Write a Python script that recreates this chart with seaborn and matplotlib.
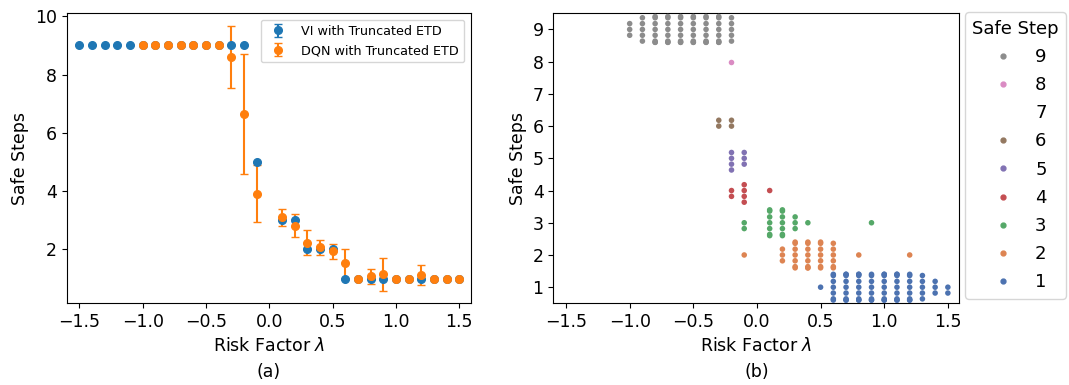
import warnings
import numpy as np
import pandas as pd
import matplotlib
matplotlib.use("Agg")
import matplotlib.pyplot as plt
from matplotlib.lines import Line2D
import seaborn as sns

warnings.filterwarnings("ignore")

# ---- (a) mean safe steps per risk factor ----
vi_lambdas = [-1.5, -1.4, -1.3, -1.2, -1.1, -1.0, -0.9, -0.8, -0.7, -0.6,
              -0.5, -0.4, -0.3, -0.2, -0.1, 0.1, 0.2, 0.3, 0.4, 0.5,
              0.6, 0.7, 0.8, 0.9, 1.0, 1.1, 1.2, 1.3, 1.4, 1.5]
vi_steps = [9, 9, 9, 9, 9, 9, 9, 9, 9, 9,
            9, 9, 9, 9, 5, 3, 3, 2, 2, 2,
            1, 1, 1, 1, 1, 1, 1, 1, 1, 1]

dqn_lambdas = [-1.0, -0.9, -0.8, -0.7, -0.6, -0.5, -0.4, -0.3, -0.2, -0.1,
               0.1, 0.2, 0.3, 0.4, 0.5, 0.6, 0.7, 0.8, 0.9, 1.0,
               1.1, 1.2, 1.3, 1.4, 1.5]
dqn_mean = [9, 9, 9, 9, 9, 9, 9, 8.59, 6.65, 3.91,
            3.10, 2.81, 2.23, 2.07, 1.93, 1.52, 1.0, 1.07, 1.15, 1.0,
            1.0, 1.12, 1.0, 1.0, 1.0]
dqn_err = [0, 0, 0, 0, 0, 0, 0, 1.06, 2.07, 0.98,
           0.29, 0.40, 0.42, 0.26, 0.26, 0.51, 0, 0.26, 0.57, 0,
           0, 0.34, 0, 0, 0]

# ---- (b) number of DQN runs reaching each safe step, per risk factor ----
runs_step9 = [3, 5, 8, 8, 8, 8, 8, 8, 5, 0, 0, 0, 0, 0, 0, 0, 0, 0, 0, 0, 0, 0, 0, 0, 0]
runs_step8 = [0, 0, 0, 0, 0, 0, 0, 0, 1, 0, 0, 0, 0, 0, 0, 0, 0, 0, 0, 0, 0, 0, 0, 0, 0]
runs_step6 = [0, 0, 0, 0, 0, 0, 0, 2, 2, 0, 0, 0, 0, 0, 0, 0, 0, 0, 0, 0, 0, 0, 0, 0, 0]
runs_step5 = [0, 0, 0, 0, 0, 0, 0, 0, 4, 3, 0, 0, 0, 0, 0, 0, 0, 0, 0, 0, 0, 0, 0, 0, 0]
runs_step4 = [0, 0, 0, 0, 0, 0, 0, 0, 2, 4, 1, 0, 0, 0, 0, 0, 0, 0, 0, 0, 0, 0, 0, 0, 0]
runs_step3 = [0, 0, 0, 0, 0, 0, 0, 0, 0, 2, 7, 7, 3, 1, 0, 0, 0, 0, 1, 0, 0, 0, 0, 0, 0]
runs_step2 = [0, 0, 0, 0, 0, 0, 0, 0, 0, 1, 0, 3, 7, 8, 7, 6, 0, 1, 0, 0, 0, 1, 0, 0, 0]
runs_step1 = [0, 0, 0, 0, 0, 0, 0, 0, 0, 0, 0, 0, 0, 0, 1, 7, 9, 9, 8, 9, 9, 8, 5, 3, 2]

runs_by_step = {9: runs_step9, 8: runs_step8, 6: runs_step6, 5: runs_step5,
                4: runs_step4, 3: runs_step3, 2: runs_step2, 1: runs_step1}
legend_steps = [9, 8, 7, 6, 5, 4, 3, 2, 1]

rows = []
for step, counts in runs_by_step.items():
    for lam, n in zip(dqn_lambdas, counts):
        rows.extend([(lam, step)] * n)
runs = pd.DataFrame(rows, columns=["risk", "step"])

deep = sns.color_palette("deep")
step_colors = {1: deep[0], 2: deep[1], 3: deep[2], 4: deep[3], 5: deep[4],
               6: deep[5], 8: deep[6], 9: deep[7]}

FS = 12.5
plt.rcParams["font.family"] = ["DejaVu Sans"]

fig = plt.figure(figsize=(10.69, 3.85), dpi=100)
ax1 = fig.add_axes([0.0624, 0.2122, 0.3779, 0.7532])
ax2 = fig.add_axes([0.5176, 0.2122, 0.3798, 0.7532])

# Panel (a)
ax1.errorbar(vi_lambdas, vi_steps, yerr=np.zeros(len(vi_steps)), fmt="o",
             color="#1f77b4", markersize=5.5, capsize=3,
             label="VI with Truncated ETD")
ax1.errorbar(dqn_lambdas, dqn_mean, yerr=dqn_err, fmt="o",
             color="#ff7f0e", markersize=5.5, capsize=3,
             label="DQN with Truncated ETD")
ax1.set_xlim(-1.6, 1.59)
ax1.set_ylim(0.15, 10.1)
ax1.set_xticks([-1.5, -1.0, -0.5, 0.0, 0.5, 1.0, 1.5])
ax1.set_yticks([2, 4, 6, 8, 10])
ax1.set_xlabel(r"Risk Factor $\lambda$", fontsize=FS)
ax1.set_ylabel("Safe Steps", fontsize=FS)
ax1.tick_params(labelsize=FS)
ax1.legend(loc="upper right", fontsize=9.2)

# Panel (b)
sns.swarmplot(data=runs, x="risk", y="step", hue="step", orient="h",
              native_scale=True, palette=step_colors, size=4, legend=False,
              ax=ax2)
ax2.set_xlim(-1.6, 1.59)
ax2.set_ylim(0.5, 9.5)
ax2.set_xticks([-1.5, -1.0, -0.5, 0.0, 0.5, 1.0, 1.5])
ax2.set_yticks(range(1, 10))
ax2.set_xlabel(r"Risk Factor $\lambda$", fontsize=FS)
ax2.set_ylabel("Safe Steps", fontsize=FS)
ax2.tick_params(labelsize=FS)

handles = []
for s in legend_steps:
    if s in step_colors:
        handles.append(Line2D([], [], marker="o", linestyle="", markersize=3.5,
                              color=step_colors[s]))
    else:
        handles.append(Line2D([], [], marker="", linestyle=""))
ax2.legend(handles, [str(s) for s in legend_steps], title="Safe Step",
           loc="upper left", bbox_to_anchor=(1.014, 1.003), borderaxespad=0,
           fontsize=13, title_fontsize=13, labelspacing=0.565)

fig.text(0.2514, 0.033, "(a)", ha="center", va="center", fontsize=FS)
fig.text(0.7075, 0.033, "(b)", ha="center", va="center", fontsize=FS)

fig.savefig("out.png", dpi=100)
